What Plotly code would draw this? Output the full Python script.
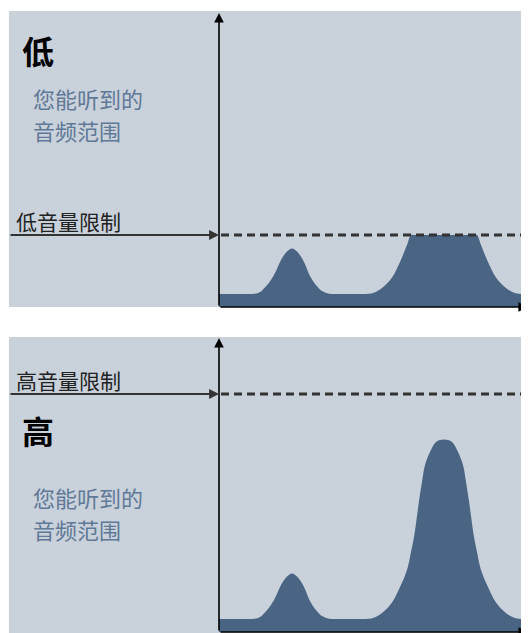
import numpy as np
import plotly.graph_objects as go

# spectrum: frequency offset from the y axis, level above the x axis
freq = [0, 15, 33, 37, 42, 44, 49, 55, 59, 62, 68, 73, 78, 84, 87, 90, 95, 101, 104, 109,
        113, 130,
        145, 153, 163, 173, 181, 188, 192, 195, 198, 200, 203, 206, 211, 217, 225,
        233, 239, 244, 247, 250, 252, 255, 258, 262, 269, 277, 287, 297, 305, 310]
level = [13, 13, 13, 13.5, 15.5, 17.5, 23, 32, 40.5, 47, 55.5, 58.5, 55.5, 47, 40.5, 33,
         24.5, 17.5, 15.5, 13.5, 13, 13,
         13, 13.7, 19, 29.5, 45, 62, 80, 95, 116, 131, 150, 167, 180, 190, 192.5,
         190, 180, 167, 150, 131, 116, 95, 80, 62, 45, 29.5, 19, 13.7, 13, 13]

low_limit = 72
high_limit = 238

titles = ["低", "高"]
limit_labels = ["低音量限制", "高音量限制"]
range_label = ["您能听到的", "音频范围"]

bg = "#c9d1db"
fill = "#4a6584"
text_blue = "#5f7997"
dark = "#333333"
font = "Noto Sans CJK SC"

# page body keeps an 8px margin, so the figure is sized to fit inside the window
W, H = 521, 625

fig = go.Figure()

# top: low volume, spectrum gets cut at the limit
fig.add_trace(go.Scatter(x=freq, y=np.minimum(level, low_limit), mode="lines",
                         line=dict(width=0, shape="spline", smoothing=1.0), fill="tozeroy",
                         fillcolor=fill, xaxis="x", yaxis="y", hoverinfo="skip"))
# bottom: high volume, whole spectrum
fig.add_trace(go.Scatter(x=freq, y=level, mode="lines",
                         line=dict(width=0, shape="spline", smoothing=1.0), fill="tozeroy",
                         fillcolor=fill, xaxis="x2", yaxis="y2", hoverinfo="skip"))

ax_common = dict(showgrid=False, zeroline=False, showticklabels=False, ticks="",
                 fixedrange=True)
fig.update_layout(
    width=W, height=H,
    margin=dict(l=0, r=0, t=0, b=0),
    paper_bgcolor="white", plot_bgcolor=bg,
    showlegend=False,
    xaxis=dict(domain=[1 / W, 1], range=[-210, 310], anchor="y", **ax_common),
    yaxis=dict(domain=[326 / H, 622 / H], range=[0, 296], anchor="x", **ax_common),
    xaxis2=dict(domain=[1 / W, 1], range=[-210, 310], anchor="y2", **ax_common),
    yaxis2=dict(domain=[0, 296 / H], range=[-1, 295], anchor="x2", **ax_common),
)

panels = [("x", "y", 294, low_limit), ("x2", "y2", 294, high_limit)]
for i, (xr, yr, top, limit) in enumerate(panels):
    # dashed volume limit
    fig.add_shape(type="line", xref=xr, yref=yr, x0=2, x1=310, y0=limit, y1=limit,
                  line=dict(color=dark, width=3, dash="8px,5px"))
    # axes with arrow heads
    fig.add_annotation(xref=xr, yref=yr, axref=xr, ayref=yr, x=0, y=top, ax=0, ay=0,
                       text="", showarrow=True, arrowhead=2, arrowsize=1.2,
                       arrowwidth=1.6, arrowcolor="black")
    fig.add_annotation(xref=xr, yref=yr, axref=xr, ayref=yr, x=309, y=0, ax=0, ay=0,
                       text="", showarrow=True, arrowhead=2, arrowsize=1.2,
                       arrowwidth=1.6, arrowcolor="black")
    # limit arrow coming from the left
    fig.add_annotation(xref=xr, yref=yr, axref=xr, ayref=yr, x=0, y=limit, ax=-210,
                       ay=limit, text="", showarrow=True, arrowhead=2, arrowsize=0.9,
                       arrowwidth=2.2, arrowcolor=dark)
    fig.add_annotation(xref=xr, yref=yr, x=-205, y=limit + 14, text=limit_labels[i],
                       showarrow=False, xanchor="left", yanchor="middle",
                       font=dict(family=font, size=21, color="#222222"))

# titles and captions, placed per panel
title_y = [257, 202]
cap_y = [(209, 177), (135, 103)]
for i, (xr, yr) in enumerate([("x", "y"), ("x2", "y2")]):
    fig.add_annotation(xref=xr, yref=yr, x=-199, y=title_y[i], text="<b>" + titles[i] + "</b>",
                       showarrow=False, xanchor="left", yanchor="middle",
                       font=dict(family=font, size=32, color="black"))
    for line, yy in zip(range_label, cap_y[i]):
        fig.add_annotation(xref=xr, yref=yr, x=-188, y=yy, text=line,
                           showarrow=False, xanchor="left", yanchor="middle",
                           font=dict(family=font, size=22, color=text_blue))

fig.write_html("out.html")
